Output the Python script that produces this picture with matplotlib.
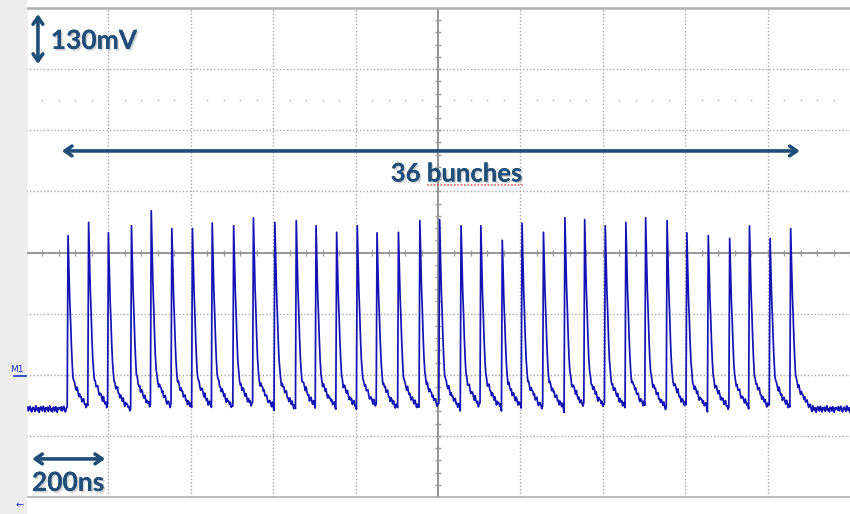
import numpy as np
import matplotlib.pyplot as plt
from matplotlib import patheffects as pe

# bunch arrival times (ns) and peak levels (mV)
bunch_t = [102, 153, 201, 255, 303, 354, 405, 453, 504, 553, 604, 655,
           703, 754, 805, 853, 904, 955, 1004, 1055, 1105, 1156, 1205, 1256,
           1307, 1355, 1406, 1457, 1505, 1556, 1605, 1656, 1707, 1755, 1806, 1857]
bunch_peak = [36, 64, 36, 57, 83, 51, 51, 57, 57, 68, 64, 68,
              51, 43, 57, 36, 43, 68, 64, 57, 51, 26, 57, 43,
              74, 64, 57, 64, 68, 68, 36, 36, 30, 51, 30, 51]
baseline = -333  # mV

# pulse shape after the rise, fraction of height, one value every 2 ns
dt = 2
pulse_shape = [1.0, 0.82, 0.64, 0.52, 0.38, 0.27, 0.20, 0.16, 0.14, 0.13,
               0.12, 0.11, 0.10, 0.09, 0.08, 0.07, 0.06, 0.055, 0.05, 0.04,
               0.035, 0.03, 0.025, 0.02, 0.015]
# baseline noise (mV), repeated along the trace
noise = [3, -2, 5, -4, 1, 6, -3, -6, 2, 4, -1, -5, 7, 0, -3, 3, -7, 2, 5, -2,
         -4, 6, 1, -6, 3, -1, 4, -5, 2, 7, -3, 0, -6, 4, 2, -4, 5, -2, -7, 3, 1]

ns_per_div = 200
mv_per_div = 130

navy = "#1f4e79"
trace_c = "#1414b4"
grid_c = "#a8a8a8"

fig = plt.figure(figsize=(8.5, 5.14), dpi=100)
fig.patches.append(plt.Rectangle((0, 0), 26 / 850, 1, transform=fig.transFigure,
                                 color="#ededed", zorder=0))
ax = fig.add_axes([26 / 850, 17 / 514, 824 / 850, 489 / 514])
ax.set_xlim(0, 10 * ns_per_div)
ax.set_ylim(-4 * mv_per_div, 4 * mv_per_div)
ax.set_xticks([])
ax.set_yticks([])
ax.spines["right"].set_visible(False)
ax.spines["left"].set_color("#9a9a9a")
ax.spines["left"].set_linewidth(1.6)
ax.spines["top"].set_color("#b0b0b0")
ax.spines["top"].set_linewidth(1.8)
ax.spines["bottom"].set_color("#b0b0b0")
ax.spines["bottom"].set_linewidth(1.2)

# graticule
for k in range(1, 10):
    if k != 5:
        ax.axvline(k * ns_per_div, color=grid_c, lw=1, ls=(0, (1, 1.5)), zorder=1)
for k in range(-3, 4):
    if k != 0:
        ax.axhline(k * mv_per_div, color=grid_c, lw=1, ls=(0, (1, 1.5)), zorder=1)
ax.axhline(0, color="#8e8e8e", lw=1.3, zorder=1)
ax.axvline(5 * ns_per_div, color="#8e8e8e", lw=1.3, zorder=1)
xm = np.arange(0, 10 * ns_per_div + 1, ns_per_div / 5)
ym = np.arange(-4 * mv_per_div, 4 * mv_per_div + 1, mv_per_div / 5)
ax.plot(xm, np.zeros_like(xm), "|", ms=5, mew=1, color="#9a9a9a", zorder=1)
ax.plot(np.full_like(ym, 5 * ns_per_div), ym, "_", ms=5, mew=1, color="#9a9a9a", zorder=1)
xd = xm[xm % ns_per_div != 0]
ax.plot(xd, np.full_like(xd, 2.5 * mv_per_div), "s", ms=1.1, mew=0, color="#b4b4b4", zorder=1)

# waveform
t = np.arange(0, 10 * ns_per_div + 1, dt)
v = np.full(len(t), float(baseline))
shape = np.array(pulse_shape)
for tb, pk in zip(bunch_t, bunch_peak):
    i0 = int(round(tb / dt))
    n = min(len(shape), len(t) - i0)
    v[i0:i0 + n] += (pk - baseline) * shape[:n]
quiet = np.abs(v - baseline) < 80
v = v + np.resize(noise, len(t)) * quiet
ax.plot(t, v, color=trace_c, lw=1.25, zorder=3)

# annotations
shadow = [pe.withSimplePatchShadow(offset=(1.2, -1.2), shadow_rgbFace="#999999", alpha=0.45), pe.Normal()]
font = dict(family=["Lato", "DejaVu Sans"], weight="bold", color=navy)
arrow = dict(arrowstyle="<->,head_length=0.5,head_width=0.35", lw=2.6, color=navy,
             shrinkA=0, shrinkB=0)

ax.annotate("", xy=(29, 507), xytext=(29, 401), arrowprops=arrow, zorder=4)
ax.text(60, 450, "130mV", fontsize=19, ha="left", va="center", path_effects=shadow, zorder=4, **font)

ax.annotate("", xy=(87, 216), xytext=(1878, 216), arrowprops=arrow, zorder=4)
ax.text(1046, 168, "36 bunches", fontsize=18.5, ha="center", va="center", path_effects=shadow, zorder=4, **font)
ax.plot([973, 1206], [143, 143], color="#e06060", lw=1.1, ls=(0, (1.2, 1)), zorder=4)

ax.annotate("", xy=(15, -439), xytext=(192, -439), arrowprops=arrow, zorder=4)
ax.text(102, -490, "200ns", fontsize=19, ha="center", va="center", path_effects=shadow, zorder=4, **font)

# channel marker and scroll arrow at the left edge
fig.text(17 / 850, 1 - 370 / 514, "M1", fontsize=6.5, color="#2030c0", ha="center", va="center")
fig.add_artist(plt.Line2D([14 / 850, 26 / 850], [1 - 376 / 514, 1 - 376 / 514],
                          transform=fig.transFigure, color="#2030c0", lw=1.2))
fig.text(20 / 850, 1 - 505 / 514, "\u2190", fontsize=7, color="#2030c0", ha="center", va="center")

fig.savefig("out.png", dpi=100)
